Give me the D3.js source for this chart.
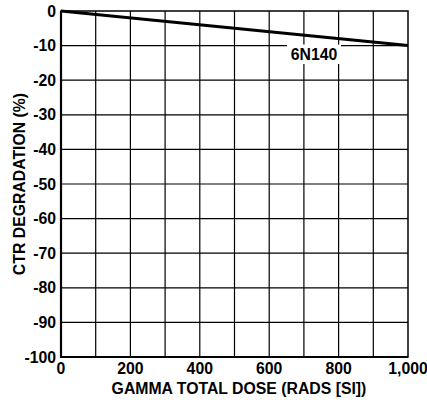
<!DOCTYPE html>
<html>
<head>
<meta charset="utf-8">
<script src="https://cdn.jsdelivr.net/npm/d3@7"></script>
<style>
  body { margin: 0; background: #fff; }
  text { font-family: Arial, "Liberation Sans", sans-serif; font-weight: bold; fill: #000; }
</style>
</head>
<body>
<svg id="chart" width="427" height="400"></svg>
<script>
// data
var doseValues = [0, 1000];
var ctrValues = [0, -10];
var seriesName = "6N140";
var xTicks = [0, 200, 400, 600, 800, 1000];
var xGrid = [100, 200, 300, 400, 500, 600, 700, 800, 900];
var yTicks = [0, -10, -20, -30, -40, -50, -60, -70, -80, -90, -100];

var svg = d3.select("#chart");
var padL = 61, padR = 408, padT = 11, padB = 357;   // plot box edges
var fs = 15.8;

var x = d3.scaleLinear().domain([0, 1000]).range([padL, padR]);
var y = d3.scaleLinear().domain([0, -100]).range([padT, padB]);

// grid
svg.append("g").selectAll("line").data(xGrid).enter().append("line")
    .attr("x1", function(d) { return x(d); }).attr("x2", function(d) { return x(d); })
    .attr("y1", padT).attr("y2", padB)
    .attr("stroke", "#000").attr("stroke-width", 1.2);
svg.append("g").selectAll("line").data(yTicks.slice(1, -1)).enter().append("line")
    .attr("y1", function(d) { return y(d); }).attr("y2", function(d) { return y(d); })
    .attr("x1", padL).attr("x2", padR)
    .attr("stroke", "#000").attr("stroke-width", 1.2);

// frame
svg.append("rect").attr("x", padL).attr("y", padT)
    .attr("width", padR - padL).attr("height", padB - padT)
    .attr("fill", "none").attr("stroke", "#000").attr("stroke-width", 1.5);
svg.append("line").attr("x1", padL).attr("x2", padL).attr("y1", padT).attr("y2", padB + 1)
    .attr("stroke", "#000").attr("stroke-width", 2.2);
svg.append("line").attr("x1", padL).attr("x2", padR).attr("y1", padB).attr("y2", padB)
    .attr("stroke", "#000").attr("stroke-width", 2.2);

// series label with white box (drawn under the line)
svg.append("rect").attr("x", 287).attr("y", 44.5).attr("width", 54).attr("height", 19.5).attr("fill", "#fff");
svg.append("text").attr("x", 314).attr("y", 60).attr("text-anchor", "middle")
    .attr("font-size", fs).text(seriesName);

// series line
var pts = doseValues.map(function(d, i) { return [d, ctrValues[i]]; });
svg.append("path").datum(pts)
    .attr("d", d3.line().x(function(d) { return x(d[0]); }).y(function(d) { return y(d[1]); }))
    .attr("fill", "none").attr("stroke", "#000").attr("stroke-width", 3);

// tick labels
svg.append("g").selectAll("text").data(yTicks).enter().append("text")
    .attr("x", padL - 5).attr("y", function(d) { return y(d); })
    .attr("dy", "0.35em").attr("text-anchor", "end").attr("font-size", fs)
    .text(function(d) { return d; });
svg.append("g").selectAll("text").data(xTicks).enter().append("text")
    .attr("x", function(d) { return x(d); })
    .attr("y", 374).attr("text-anchor", "middle").attr("font-size", fs)
    .text(function(d) { return d3.format(",")(d); });

// axis titles
svg.append("text").attr("x", 239).attr("y", 394).attr("text-anchor", "middle")
    .attr("font-size", fs).text("GAMMA TOTAL DOSE (RADS [SI])");
svg.append("text").attr("transform", "translate(25," + ((padT + padB) / 2) + ") rotate(-90)")
    .attr("text-anchor", "middle").attr("font-size", fs).text("CTR DEGRADATION (%)");
</script>
</body>
</html>
